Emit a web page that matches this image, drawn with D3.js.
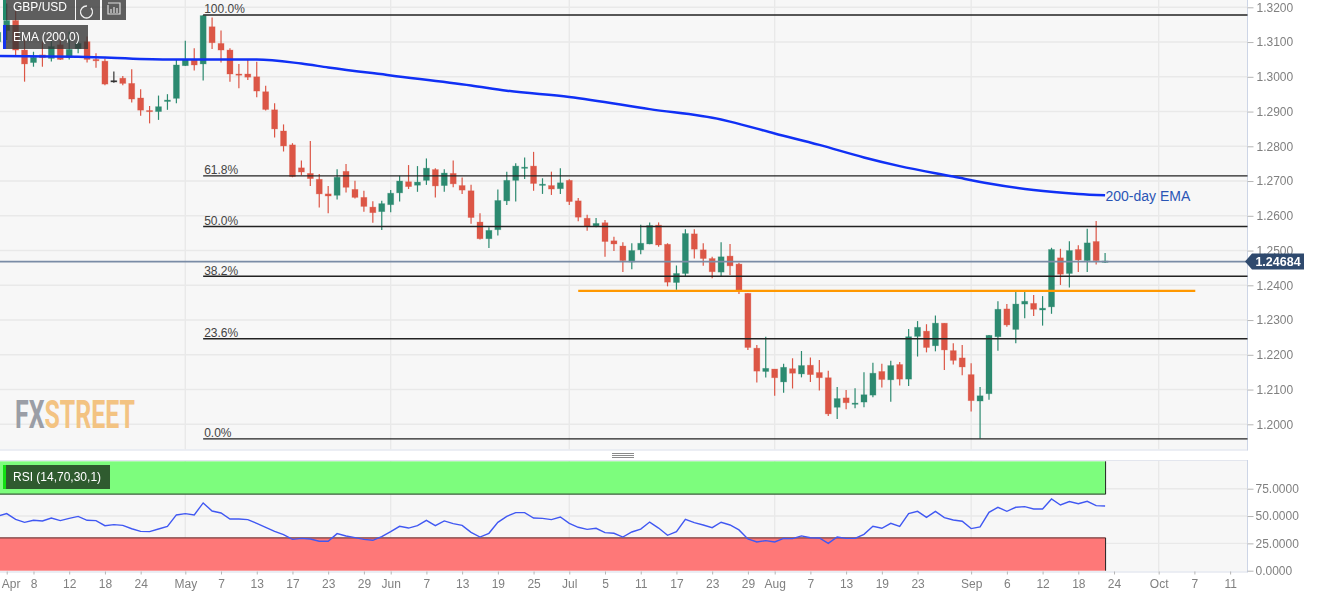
<!DOCTYPE html>
<html><head><meta charset="utf-8">
<style>html,body{margin:0;padding:0;background:#fff;overflow:hidden}svg{display:block;filter:blur(0.3px)}text{font-family:"Liberation Sans",Arial,sans-serif}</style>
<script src="https://cdn.jsdelivr.net/npm/d3@7/dist/d3.min.js"></script>
</head><body><svg id="c" width="1317" height="599"></svg>
<script>
const firstIndex = -1;
const directions = "GGRRGRGRGGR"+"RRDRRRRGGG"+"GRGRRRRRRR"+"RRRRRRRGRR"+"RRGGGRGGRG"+"RRRRGGGGGR"+"GRGRRRGRRR"+"GGGRRGGRRR"+"GRRRRGRGRG"+"RRRGRGGGRG"+"RGGRGRRRRG"+"GGRGGRGGRG"+"RGRG";
const highs = [1.3139,1.3211,1.3192,1.3106,1.3072,1.3101,1.3106,1.3111,1.3130,1.3120,1.3116,
1.3068,1.3053,1.3015,1.3002,1.3022,1.2964,1.2916,1.2946,1.2950,1.3050,
1.3104,1.3082,1.3178,1.3171,1.3133,1.3082,1.3037,1.3050,1.3043,1.2974,
1.2924,1.2863,1.2809,1.2759,1.2815,1.2720,1.2686,1.2734,1.2749,1.2701,
1.2672,1.2642,1.2643,1.2674,1.2715,1.2746,1.2743,1.2765,1.2737,1.2734,
1.2759,1.2710,1.2689,1.2607,1.2567,1.2676,1.2727,1.2751,1.2768,1.2784,
1.2708,1.2727,1.2737,1.2705,1.2651,1.2603,1.2594,1.2588,1.2540,1.2524,
1.2521,1.2574,1.2581,1.2581,1.2521,1.2457,1.2561,1.2561,1.2521,1.2482,
1.2524,1.2519,1.2465,1.2377,1.2228,1.2252,1.2159,1.2174,1.2190,1.2211,
1.2192,1.2185,1.2154,1.2107,1.2099,1.2104,1.2150,1.2177,1.2174,1.2183,
1.2179,1.2274,1.2297,1.2288,1.2313,1.2291,1.2233,1.2228,1.2176,1.2107,
1.2257,1.2354,1.2346,1.2382,1.2382,1.2372,1.2369,1.2508,1.2505,1.2527,
1.2515,1.2563,1.2585,1.2493];
const lows = [1.3092,1.3106,1.3063,1.2986,1.3029,1.3029,1.3044,1.3048,1.3050,1.3068,1.3041,
1.3026,1.2976,1.2983,1.2976,1.2926,1.2888,1.2866,1.2876,1.2905,1.2924,
1.3031,1.3018,1.2989,1.3080,1.3041,1.2986,1.2967,1.2991,1.2941,1.2903,
1.2825,1.2785,1.2711,1.2717,1.2686,1.2624,1.2607,1.2647,1.2667,1.2650,
1.2612,1.2580,1.2559,1.2610,1.2641,1.2677,1.2669,1.2689,1.2653,1.2669,
1.2682,1.2663,1.2577,1.2532,1.2507,1.2543,1.2631,1.2641,1.2706,1.2672,
1.2663,1.2660,1.2663,1.2631,1.2584,1.2557,1.2567,1.2482,1.2499,1.2438,
1.2446,1.2489,1.2518,1.2511,1.2397,1.2387,1.2427,1.2477,1.2456,1.2420,
1.2427,1.2430,1.2375,1.2214,1.2120,1.2135,1.2082,1.2091,1.2103,1.2135,
1.2122,1.2097,1.2024,1.2015,1.2043,1.2046,1.2049,1.2078,1.2106,1.2065,
1.2112,1.2110,1.2195,1.2207,1.2210,1.2156,1.2172,1.2141,1.2037,1.1959,
1.2071,1.2212,1.2281,1.2233,1.2305,1.2312,1.2284,1.2318,1.2401,1.2394,
1.2438,1.2438,1.2460,1.2464];
const bodyTops = [1.3128,1.3162,1.3162,1.3077,1.3056,1.3063,1.3087,1.3092,1.3079,1.3096,1.3101,
1.3050,1.3045,1.2989,1.2996,1.2981,1.2939,1.2903,1.2914,1.2933,1.3034,
1.3050,1.3048,1.3176,1.3144,1.3096,1.3077,1.3008,1.3008,1.3000,1.2957,
1.2905,1.2844,1.2804,1.2738,1.2722,1.2705,1.2663,1.2711,1.2728,1.2676,
1.2653,1.2625,1.2635,1.2665,1.2700,1.2698,1.2697,1.2737,1.2733,1.2723,
1.2722,1.2687,1.2672,1.2582,1.2558,1.2644,1.2702,1.2743,1.2740,1.2743,
1.2691,1.2687,1.2695,1.2702,1.2643,1.2593,1.2578,1.2580,1.2528,1.2513,
1.2500,1.2521,1.2572,1.2573,1.2518,1.2434,1.2549,1.2548,1.2502,1.2477,
1.2482,1.2484,1.2461,1.2377,1.2219,1.2161,1.2159,1.2164,1.2160,1.2169,
1.2170,1.2149,1.2134,1.2074,1.2076,1.2061,1.2085,1.2147,1.2152,1.2169,
1.2172,1.2252,1.2279,1.2268,1.2291,1.2291,1.2212,1.2191,1.2143,1.2082,
1.2256,1.2331,1.2332,1.2346,1.2354,1.2348,1.2334,1.2503,1.2479,1.2500,
1.2503,1.2522,1.2526,1.2470];
const bodyBottoms = [1.3101,1.3133,1.3077,1.3037,1.3041,1.3055,1.3053,1.3050,1.3056,1.3081,1.3050,
1.3046,1.2979,1.2985,1.2981,1.2936,1.2904,1.2900,1.2900,1.2929,1.2938,
1.3032,1.3034,1.3037,1.3098,1.3077,1.3008,1.3005,1.2999,1.2959,1.2906,
1.2850,1.2801,1.2713,1.2726,1.2707,1.2663,1.2657,1.2659,1.2682,1.2653,
1.2627,1.2609,1.2612,1.2632,1.2666,1.2684,1.2688,1.2702,1.2686,1.2687,
1.2692,1.2674,1.2595,1.2534,1.2534,1.2560,1.2643,1.2702,1.2738,1.2693,
1.2688,1.2677,1.2678,1.2641,1.2596,1.2569,1.2571,1.2526,1.2519,1.2471,
1.2467,1.2502,1.2519,1.2516,1.2409,1.2408,1.2434,1.2504,1.2477,1.2439,
1.2438,1.2456,1.2384,1.2221,1.2153,1.2152,1.2134,1.2122,1.2147,1.2145,
1.2143,1.2134,1.2030,1.2049,1.2062,1.2059,1.2064,1.2084,1.2129,1.2128,
1.2130,1.2130,1.2253,1.2221,1.2226,1.2214,1.2184,1.2165,1.2068,1.2067,
1.2088,1.2252,1.2286,1.2273,1.2346,1.2331,1.2329,1.2338,1.2432,1.2434,
1.2473,1.2471,1.2471,1.2466];
const rsiValues = [50,52.2,47,44.2,46.1,45.5,48.2,45.8,47.9,49.7,46.1,
45.8,41.2,42.1,41.5,38.4,36,35.7,38.1,40.6,51,
52.2,51,62,54.6,52.8,47.3,47.3,46.7,43.3,39.7,
36,33,28.7,29.6,29,26.9,26.9,33.9,31.7,30.2,
28.7,27.8,31.1,35.7,40.6,39,41.2,46.1,41.2,45.5,
43,41.5,35.1,30.8,34.2,44.2,49.7,53.1,53.1,48.2,
47.9,46.7,49.1,43.3,39.7,37.8,38.8,34.8,34.2,30.8,
35.4,38.1,44.5,39,32.4,35.7,47,44,41.8,39.4,
44.3,41.8,37.3,29,26.3,27.5,26.3,29.6,29.3,31.8,
30.2,29.9,25,30.8,29.6,29.6,33.3,40.6,38.8,43.3,
40.6,52.2,54.3,48.8,54.3,48.5,46.4,45.2,38.5,40,
53.4,58,54.3,58,58.6,56.5,56.5,65.6,60.1,63.2,
61.3,63.5,59.5,59.2];
const emaIndex = [-1,8,18,28,33,36,43,52,56,63,72,80,81,86,91,96,100,106,110,115,120,123];
const emaValues = [1.3060,1.3058,1.3050,1.3050,1.3038,1.3027,1.3004,1.2975,1.2960,1.2942,1.2907,1.2877,1.2871,1.2837,1.2804,1.2768,1.2743,1.2713,1.2693,1.2674,1.2663,1.2659];
const fibLabels = ["100.0%","61.8%","50.0%","38.2%","23.6%","0.0%"];
const fibValues = [1.3178,1.2715,1.2569,1.2426,1.2246,1.1958];
const fibStartIndex = 22;
const supportValue = 1.2384, supportFrom = 64, supportTo = 133.1;
const lastPrice = 1.24684;
const priceTicks = [1.20,1.21,1.22,1.23,1.24,1.25,1.26,1.27,1.28,1.29,1.30,1.31,1.32];
const rsiTicks = [0,25,50,75];
const dateTickIndex = [0,3,7,11,15,20,24,28,32,36,40,43,47,51,55,59,63,67,71,75,79,83,86,90,94,98,102,108,112,116,120,124,129,133,137];
const dateTickLabels = ["Apr","8","12","18","24","May","7","13","17","23","29","Jun","7","13","19","25","Jul","5","11","17","23","29","Aug","7","13","19","23","Sep","6","12","18","24","Oct","7","11"];
const monthIndex = [20,43,63,86,108,129];

const svg = d3.select("#c");
const W=1247.5, H1=449.5, R0=461, R1=571.5;
const x = d3.scaleLinear().domain([0,137]).range([6.7,6.7+8.93*137]);
const y = d3.scaleLinear().domain([1.32,1.20]).range([7.3,424.3]);
const r = d3.scaleLinear().domain([0,75]).range([570.7,488.7]);
const GREEN="#2c8a70", RED="#dc5646";

svg.append("rect").attr("width",W).attr("height",H1).attr("fill","#f7f7f7");
svg.append("rect").attr("y",R0).attr("width",W).attr("height",R1-R0).attr("fill","#f7f7f7");
svg.append("rect").attr("y",R0-1).attr("width",W).attr("height",1).attr("fill","#e3e6ee");
svg.append("line").attr("x1",0).attr("x2",W).attr("y1",H1+.5).attr("y2",H1+.5).attr("stroke","#d9deea");
svg.append("line").attr("x1",0).attr("x2",W).attr("y1",R1+.5).attr("y2",R1+.5).attr("stroke","#d9deea");
svg.append("line").attr("x1",W).attr("x2",W).attr("y1",0).attr("y2",H1+1).attr("stroke","#cdd5e6");
svg.append("line").attr("x1",W).attr("x2",W).attr("y1",R0-1).attr("y2",R1+1).attr("stroke","#cdd5e6");

const grid = svg.append("g").attr("stroke","#e9e9e9").attr("stroke-width",1.4);
grid.selectAll(".h").data(priceTicks).join("line").attr("x1",0).attr("x2",W).attr("y1",d=>y(d)).attr("y2",d=>y(d));
grid.selectAll(".r").data(rsiTicks.slice(1)).join("line").attr("x1",0).attr("x2",W).attr("y1",d=>r(d)).attr("y2",d=>r(d));
grid.selectAll(".v").data(monthIndex).join("line").attr("x1",d=>x(d)).attr("x2",d=>x(d)).attr("y1",0).attr("y2",H1);
grid.selectAll(".v2").data(monthIndex).join("line").attr("x1",d=>x(d)).attr("x2",d=>x(d)).attr("y1",R0).attr("y2",R1);

// logo
const logo = svg.append("text").attr("x",15).attr("y",428).attr("textLength",120).attr("lengthAdjust","spacingAndGlyphs")
  .attr("font-weight",700).attr("font-size",39).attr("style",'font-family:Roboto,"Liberation Sans"');
logo.append("tspan").attr("fill","#9b9ea6").text("FX");
logo.append("tspan").attr("fill","#f3c382").text("STREET");

// candles
const candles = d3.range(highs.length).map(i=>({i:i+firstIndex,h:highs[i],l:lows[i],t:bodyTops[i],b:bodyBottoms[i],d:directions[i]}));
const col = d=>d.d==="G"?GREEN:d.d==="R"?RED:"#333";
const cg = svg.append("g");
cg.selectAll(".w").data(candles).join("line").attr("x1",d=>x(d.i)).attr("x2",d=>x(d.i)).attr("y1",d=>y(d.h)).attr("y2",d=>y(d.l)).attr("stroke",col).attr("stroke-width",1.2);
cg.selectAll(".b").data(candles).join("rect").attr("x",d=>x(d.i)-3).attr("width",6)
  .attr("y",d=>y(d.t)).attr("height",d=>Math.max(1.2,y(d.b)-y(d.t))).attr("fill",col).attr("stroke",col).attr("stroke-opacity",.35).attr("stroke-width",.8);

// fibonacci
const fg = svg.append("g");
fg.selectAll("line").data(fibValues).join("line").attr("x1",x(fibStartIndex)).attr("x2",W).attr("y1",d=>y(d)).attr("y2",d=>y(d)).attr("stroke","#222").attr("stroke-width",1.4);
fg.selectAll("text").data(fibValues).join("text").attr("x",x(fibStartIndex)+1).attr("y",d=>y(d)-1.5).attr("font-size",12).attr("fill","#444").text((d,i)=>fibLabels[i]);

// last price line
svg.append("line").attr("x1",0).attr("x2",W).attr("y1",y(lastPrice)).attr("y2",y(lastPrice)).attr("stroke","#7a8ca6").attr("stroke-width",1.8);

// support
svg.append("line").attr("x1",x(supportFrom)).attr("x2",x(supportTo)).attr("y1",y(supportValue)).attr("y2",y(supportValue)).attr("stroke","#ff9800").attr("stroke-width",2.4);

// EMA
svg.append("path").datum(emaIndex.map((d,i)=>[d,emaValues[i]])).attr("fill","none").attr("stroke","#1030f5").attr("stroke-width",2.5)
  .attr("d",d3.line().x(d=>x(d[0])).y(d=>y(d[1])).curve(d3.curveMonotoneX));
svg.append("text").attr("x",1105.5).attr("y",201).attr("font-size",14).attr("fill","#2a55b5").text("200-day EMA");

// RSI panel
const bandEnd = x(123)+.5;
svg.append("rect").attr("y",r(100)).attr("width",bandEnd).attr("height",r(70)-r(100)).attr("fill","#7dfd7d");
svg.append("rect").attr("y",r(30)).attr("width",bandEnd).attr("height",r(0)-r(30)).attr("fill","#fe7878");
svg.append("line").attr("x1",0).attr("x2",bandEnd).attr("y1",r(70)).attr("y2",r(70)).attr("stroke","#3d5f3d").attr("stroke-width",1.2);
svg.append("line").attr("x1",0).attr("x2",bandEnd).attr("y1",r(30)).attr("y2",r(30)).attr("stroke","#7a3d3d").attr("stroke-width",1.4);
svg.append("line").attr("x1",bandEnd).attr("x2",bandEnd).attr("y1",r(100)).attr("y2",r(70)).attr("stroke","#222").attr("stroke-width",1);
svg.append("line").attr("x1",bandEnd).attr("x2",bandEnd).attr("y1",r(30)).attr("y2",r(0)).attr("stroke","#222").attr("stroke-width",1);
svg.append("path").datum(rsiValues).attr("fill","none").attr("stroke","#4058f2").attr("stroke-width",1.4)
  .attr("d",d3.line().x((d,i)=>x(i+firstIndex)).y(d=>r(d)));

// axes
function styleAxis(g){g.select(".domain").remove();g.selectAll("line").attr("stroke","#b5b5b5");g.selectAll("text").attr("fill","#808080").attr("font-size",12).attr("style",'font-family:"Liberation Sans"');}
svg.append("g").attr("transform",`translate(${W},0)`).call(d3.axisRight(y).tickValues(priceTicks).tickFormat(d3.format(".4f")).tickSize(6).tickPadding(3)).call(styleAxis);
svg.append("g").attr("transform",`translate(${W},0)`).call(d3.axisRight(r).tickValues(rsiTicks).tickFormat(d3.format(".4f")).tickSize(6).tickPadding(2)).call(styleAxis);
const xAxisG = svg.append("g").attr("transform",`translate(0,${R1})`).call(d3.axisBottom(x).tickValues(dateTickIndex).tickFormat((d,i)=>dateTickLabels[i]).tickSize(3).tickPadding(5)).call(styleAxis);
xAxisG.selectAll("text").filter((d,i)=>i===0).attr("dx",4);

// price tag
const ty=y(lastPrice);
svg.append("path").attr("d",`M1245,${ty} L1252,${ty-8} L1304,${ty-8} L1304,${ty+8} L1252,${ty+8} Z`).attr("fill","#2f4a6e");
svg.append("text").attr("x",1278).attr("y",ty+4.5).attr("text-anchor","middle").attr("font-size",12.5).attr("font-weight",700).attr("fill","#fff").text(lastPrice.toFixed(5));

// handle
svg.append("g").attr("stroke","#8a8a8a").selectAll("line").data([453.5,455.5,457.5]).join("line").attr("x1",612).attr("x2",634).attr("y1",d=>d).attr("y2",d=>d);

// overlay legends
const box="rgba(55,55,55,.8)";
svg.append("rect").attr("x",3).attr("y",0).attr("width",72).attr("height",20).attr("fill",box);
svg.append("rect").attr("x",3).attr("y",0).attr("width",3).attr("height",20).attr("fill","#1f8a6a");
svg.append("text").attr("x",13).attr("y",11).attr("font-size",12).attr("fill","#fff").text("GBP/USD");
svg.append("rect").attr("x",76).attr("y",0).attr("width",24).attr("height",20).attr("fill",box);
svg.append("rect").attr("x",102).attr("y",0).attr("width",24).attr("height",20).attr("fill",box);
svg.append("path").attr("d","M94,5 A6,6 0 1 1 90,3").attr("fill","none").attr("stroke","#eee").attr("stroke-width",1.3).attr("transform","translate(-3,3)");
svg.append("path").attr("d","M108,3 H120 V14 H108 V5 M111,13 V9 M114,13 V7 M117,13 V8").attr("fill","none").attr("stroke","#ddd").attr("stroke-width",1.2);
svg.append("rect").attr("x",3).attr("y",25).attr("width",85).attr("height",24).attr("fill",box);
svg.append("rect").attr("x",3).attr("y",25).attr("width",3).attr("height",24).attr("fill","#1433f0");
svg.append("text").attr("x",13).attr("y",41).attr("font-size",12).attr("fill","#fff").text("EMA (200,0)");
svg.append("rect").attr("x",3).attr("y",465).attr("width",107).attr("height",24).attr("fill","#2f5b2f");
svg.append("rect").attr("x",3).attr("y",465).attr("width",3).attr("height",24).attr("fill","#12e012");
svg.append("text").attr("x",13).attr("y",481).attr("font-size",12).attr("fill","#fff").text("RSI (14,70,30,1)");
</script></body></html>
